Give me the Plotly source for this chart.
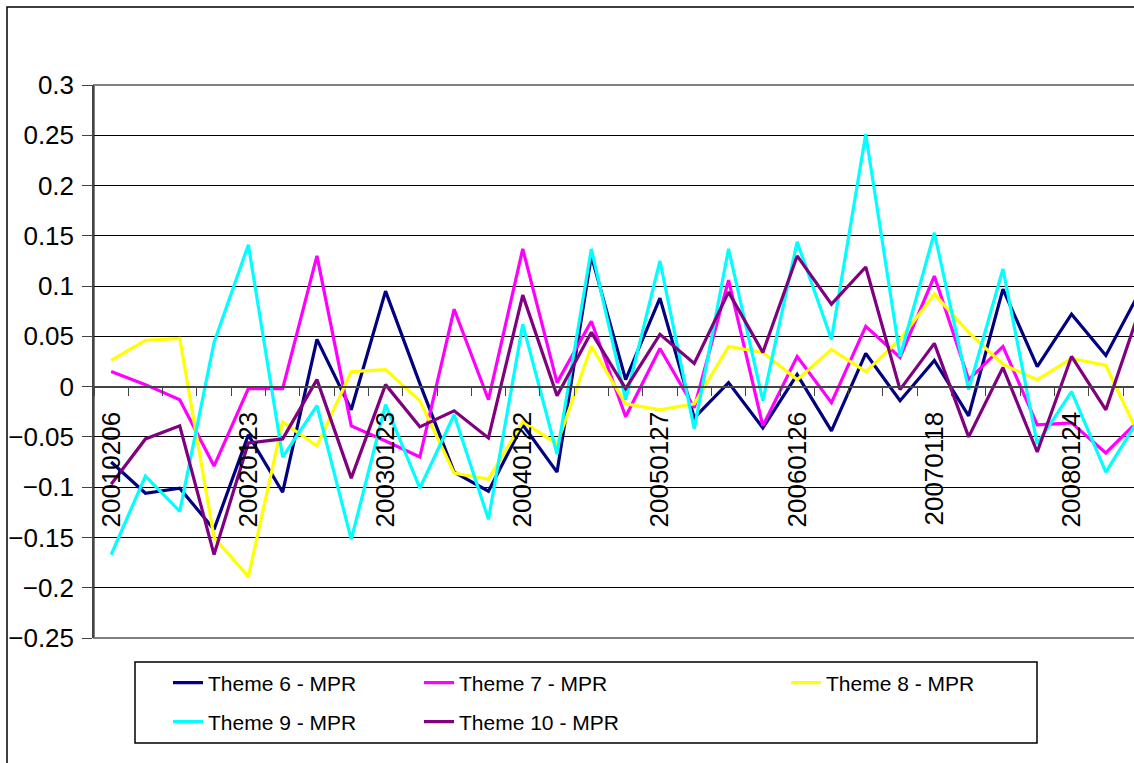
import plotly.graph_objects as go

# quarterly observation index; only every 4th date is labelled on the chart
periods = list(range(31))
tick_pos = [0, 4, 8, 12, 16, 20, 24, 28]
tick_labels = ['20010206', '20020123', '20030123', '20040122',
               '20050127', '20060126', '20070118', '20080124']

theme6 = [-0.075, -0.106, -0.101, -0.142, -0.048, -0.105, 0.047, -0.023, 0.095, 0.003,
          -0.085, -0.104, -0.038, -0.085, 0.130, 0.007, 0.088, -0.031, 0.004, -0.041,
          0.012, -0.044, 0.033, -0.014, 0.026, -0.029, 0.097, 0.020, 0.072, 0.031, 0.095]
theme7 = [0.015, 0.002, -0.013, -0.079, -0.002, -0.002, 0.130, -0.039, -0.054, -0.070,
          0.077, -0.013, 0.137, 0.004, 0.065, -0.030, 0.038, -0.021, 0.106, -0.039,
          0.030, -0.016, 0.060, 0.029, 0.110, 0.007, 0.040, -0.038, -0.036, -0.066, -0.032]
theme8 = [0.026, 0.046, 0.048, -0.150, -0.189, -0.035, -0.059, 0.015, 0.017, -0.014,
          -0.086, -0.092, -0.035, -0.057, 0.040, -0.017, -0.023, -0.017, 0.040, 0.034,
          0.007, 0.037, 0.015, 0.047, 0.092, 0.054, 0.022, 0.007, 0.028, 0.021, -0.051]
theme9 = [-0.167, -0.089, -0.124, 0.044, 0.141, -0.070, -0.019, -0.152, -0.018, -0.101,
          -0.028, -0.132, 0.062, -0.067, 0.137, -0.013, 0.125, -0.042, 0.137, -0.014,
          0.144, 0.047, 0.251, 0.030, 0.153, -0.003, 0.117, -0.057, -0.005, -0.085, -0.030]
theme10 = [-0.097, -0.052, -0.039, -0.167, -0.056, -0.052, 0.007, -0.091, 0.002, -0.040,
           -0.024, -0.051, 0.091, -0.009, 0.054, -0.002, 0.052, 0.023, 0.094, 0.034,
           0.130, 0.082, 0.119, -0.003, 0.043, -0.050, 0.019, -0.065, 0.030, -0.023, 0.078]

series = [
    ('Theme 6 - MPR', theme6, '#000080'),
    ('Theme 7 - MPR', theme7, '#FF00FF'),
    ('Theme 8 - MPR', theme8, '#FFFF00'),
    ('Theme 9 - MPR', theme9, '#00FFFF'),
    ('Theme 10 - MPR', theme10, '#800080'),
]

W, H = 1134, 763
L, T, B = 94, 85, 125
PW, PH = W - L, H - T - B
Y_MIN, Y_MAX = -0.25, 0.3


def px_x(x):
    return (x - L) / PW


def px_y(y):
    return (H - B - y) / PH


FONT = 'Liberation Sans, Arial, sans-serif'

fig = go.Figure()
legend_ids = ['legend', 'legend2', 'legend3', 'legend4', 'legend5']
for (name, vals, color), lid in zip(series, legend_ids):
    fig.add_trace(go.Scatter(x=periods, y=vals, name=name, mode='lines',
                             line=dict(color=color, width=3.2), legend=lid))

# legend entry positions (pixel): column starts and row centres
leg_pos = [(168, 683), (419, 683), (786, 683), (168, 722), (419, 722)]
legends = {}
for lid, (lx, ly) in zip(legend_ids, leg_pos):
    legends[lid] = dict(x=px_x(lx), y=px_y(ly), xanchor='left', yanchor='middle',
                        bgcolor='rgba(0,0,0,0)', borderwidth=0,
                        font=dict(family=FONT, size=21, color='black'))

fig.update_layout(
    width=W, height=H,
    margin=dict(l=L, r=0, t=T, b=B),
    paper_bgcolor='white', plot_bgcolor='white',
    showlegend=True,
    font=dict(family=FONT, size=26, color='black'),
    xaxis=dict(
        range=[-0.5, -0.5 + PW / 34.3],
        anchor='free', position=(0 - Y_MIN) / (Y_MAX - Y_MIN),
        tickmode='array', tickvals=tick_pos, ticktext=tick_labels,
        tickangle=-90, ticks='outside', ticklen=9, tickcolor='rgba(0,0,0,0)',
        ticklabelstandoff=5,
        showgrid=False, zeroline=False,
        showline=True, linecolor='#444', linewidth=1.5,
        minor=dict(tick0=0.5, dtick=1, ticks='outside', ticklen=9,
                   tickcolor='#444', tickwidth=1, showgrid=False),
        tickfont=dict(family=FONT, size=26, color='black'),
    ),
    yaxis=dict(
        range=[Y_MIN, Y_MAX], tickmode='linear', tick0=-0.25, dtick=0.05,
        showgrid=True, gridcolor='black', gridwidth=1, zeroline=False,
        showline=True, linecolor='#444', linewidth=1.5,
        ticks='outside', ticklen=10, tickcolor='#444', ticklabelstandoff=3,
        tickfont=dict(family=FONT, size=26, color='black'),
    ),
    **legends,
)

# plot-area border (top/bottom in grey), legend frame and chart frame
fig.add_shape(type='rect', xref='paper', yref='paper', x0=0, x1=1.05, y0=0, y1=1,
              line=dict(color='#808080', width=2), layer='below')
fig.add_shape(type='rect', xref='paper', yref='paper',
              x0=px_x(135), x1=px_x(1037), y0=px_y(743), y1=px_y(662),
              line=dict(color='black', width=1.5))
fig.add_shape(type='rect', xref='paper', yref='paper',
              x0=px_x(7), x1=px_x(W + 20), y0=px_y(H + 20), y1=px_y(7),
              line=dict(color='black', width=1.5))

fig.write_html('out.html', config={'displayModeBar': False},
               post_script="document.body.style.margin='0';document.body.style.overflow='hidden';")
